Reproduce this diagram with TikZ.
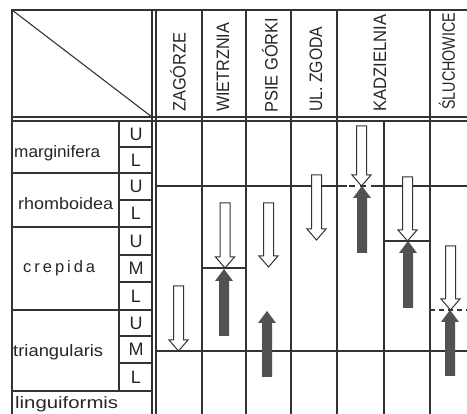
\documentclass[tikz,border=0pt]{standalone}
\usepackage{fontspec}
\setmainfont{Liberation Sans}
\usepackage{graphicx}
\newcommand\hfit[2]{\resizebox{#1}{\height}{#2}}
\newcommand\openarr[3]{%
  \draw[openarrow] ({#1-5},#2) -- ({#1+5},#2) -- ({#1+5},{#3-11}) -- ({#1+9.5},{#3-11}) -- (#1,#3) -- ({#1-9.5},{#3-11}) -- ({#1-5},{#3-11}) -- cycle;}
\newcommand\fillarr[3]{%
  \fill[fillarrow] ({#1-5},#3) -- ({#1+5},#3) -- ({#1+5},{#2+12}) -- ({#1+9},{#2+12}) -- (#1,#2) -- ({#1-9},{#2+12}) -- ({#1-5},{#2+12}) -- cycle;}
\begin{document}
\begin{tikzpicture}[x=1pt,y=-1pt,
  grid/.style={line width=1.1pt,draw=black!80},
  openarrow/.style={line width=1pt,draw=black!80,fill=white},
  fillarrow/.style={fill=black!68},
  hdr/.style={rotate=90,anchor=west,inner sep=0pt,text=black!85,font=\fontsize{18}{18}\selectfont},
  lbl/.style={anchor=base west,inner sep=0pt,text=black!85,font=\fontsize{16.5}{16.5}\selectfont},
  sub/.style={anchor=center,inner sep=0pt,text=black!85,font=\fontsize{18}{18}\selectfont}]
\useasboundingbox (0,0) rectangle (467,414);
% frame
\draw[grid] (12,414) -- (12,10) -- (467,10);
\draw[grid] (12,10) -- (152,117);
\draw[grid] (12,117) -- (467,117);
\draw[grid] (12,121) -- (467,121);
\draw[grid] (152,10) -- (152,414);
\draw[grid] (156,10) -- (156,414);
\foreach \xx in {202,246,291,337,430} \draw[grid] (\xx,10) -- (\xx,414);
\draw[grid] (384,121) -- (384,414);
% left column
\draw[grid] (119,121) -- (119,391);
\foreach \yy in {173,227,310,391} \draw[grid] (12,\yy) -- (152,\yy);
\foreach \yy in {147,200,255,282,336,363} \draw[grid] (119,\yy) -- (152,\yy);
% data lines
\draw[grid] (156,186) -- (347,186);
\draw[grid,dash pattern=on 6pt off 5pt] (349,186) -- (377,186);
\draw[grid] (377,186) -- (467,186);
\draw[grid] (156,351) -- (467,351);
\draw[grid] (202,268) -- (246,268);
\draw[grid] (384,241) -- (430,241);
\draw[grid,dash pattern=on 5pt off 4pt] (430,310) -- (467,310);
% header labels
\node[hdr] (zag) at (178,112) {\hfit{79pt}{ZAGÓRZE}};
\node[hdr] (wie) at (223,112) {\hfit{89pt}{WIETRZNIA}};
\node[hdr] (psi) at (270,113) {\hfit{95pt}{PSIE GÓRKI}};
\node[hdr] (zgo) at (316,112) {\hfit{85pt}{UL. ZGODA}};
\node[hdr] (kad) at (380,112) {\hfit{97pt}{KADZIELNIA}};
\node[hdr] (slu) at (447,110) {\hfit{97pt}{ŚLUCHOWICE}};
% zone labels
\node[lbl] (mar) at (14,158) {\hfit{86pt}{marginifera}};
\node[lbl] (rho) at (18,210) {\hfit{95pt}{rhomboidea}};
\node[lbl] (cre) at (23,273) {\addfontfeature{LetterSpace=18}crepida};
\node[lbl] (tri) at (13,357) {\hfit{90pt}{triangularis}};
\node[lbl] (lin) at (15,409) {\hfit{103pt}{linguiformis}};
% sub labels
\node[sub] (mu) at (136,134) {U};
\node[sub] (ml) at (136,160) {L};
\node[sub] (ru) at (136,186.5) {U};
\node[sub] (rl) at (136,213.5) {L};
\node[sub] (cu) at (136,241) {U};
\node[sub] (cm) at (136,268.5) {M};
\node[sub] (cl) at (136,296) {L};
\node[sub] (tu) at (136,323) {U};
\node[sub] (tm) at (136,349.5) {M};
\node[sub] (tl) at (136,377) {L};
% arrows
\openarr{178.5}{286}{351}
\openarr{225}{203}{268}
\openarr{268.5}{203}{267}
\openarr{316.5}{175}{240}
\openarr{361.5}{126}{186}
\openarr{407.5}{177}{241}
\openarr{450.5}{246}{310}
\fillarr{224}{269}{336}
\fillarr{267}{311}{377}
\fillarr{362}{186}{253}
\fillarr{408}{241}{308}
\fillarr{450}{310}{376}
\end{tikzpicture}
\end{document}
